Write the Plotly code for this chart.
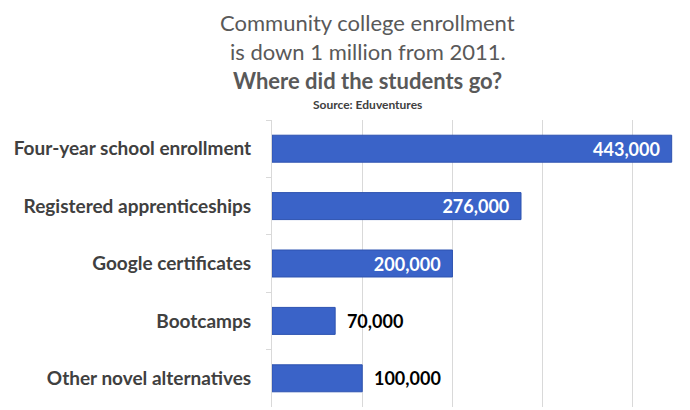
import plotly.graph_objects as go

categories = [
    "Four-year school enrollment",
    "Registered apprenticeships",
    "Google certificates",
    "Bootcamps",
    "Other novel alternatives",
]
students = [443000, 276000, 200000, 70000, 100000]
label_inside = [True, True, True, False, False]

# the page body adds an 8px margin, so the figure is a bit smaller
PAD = 8
W, H = 690 - PAD, 410 - PAD
M = dict(l=264, r=12, t=112, b=3)


def py(p):
    # window pixel row -> paper y
    return (H - M["b"] - (p - PAD)) / (H - M["t"] - M["b"])


def px(p):
    return (p - PAD - M["l"]) / (W - M["l"] - M["r"])


texts = []
for v, inside in zip(students, label_inside):
    s = f"{v:,}"
    texts.append(s + "\u00a0\u00a0" if inside else "\u00a0\u00a0" + s)

fig = go.Figure()
fig.add_trace(
    go.Bar(
        x=students,
        y=categories,
        orientation="h",
        text=texts,
        textposition=["inside" if i else "outside" for i in label_inside],
        insidetextanchor="end",
        constraintext="none",
        cliponaxis=False,
        textfont=dict(
            family="Lato",
            size=18,
            color=["white" if i else "black" for i in label_inside],
            weight="bold",
        ),
        marker=dict(color="#3A63C8", line=dict(color="#2D52B0", width=1)),
        hoverinfo="skip",
        showlegend=False,
    )
)

# title lines stacked from the top edge: text, font size, colour
title_lines = [
    ("Community college enrollment", 22, "#595959"),
    ("is down 1 million from 2011.", 22, "#595959"),
    ("<b>Where did the students go?</b>", 22, "#595959"),
    ("<b>Source: Eduventures</b>", 12, "#404040"),
]
annotations = []
top = PAD
for txt, size, col in title_lines:
    annotations.append(
        dict(
            text=txt,
            x=px(367.5),
            y=py(top),
            xref="paper",
            yref="paper",
            xanchor="center",
            yanchor="top",
            borderpad=0,
            showarrow=False,
            font=dict(family="Lato", size=size, color=col),
        )
    )
    top += size * 1.3 + 0.6

fig.update_layout(
    width=W,
    height=H,
    margin=M,
    paper_bgcolor="white",
    plot_bgcolor="white",
    bargap=0.53,
    annotations=annotations,
    xaxis=dict(
        range=[0, 450000],
        showticklabels=False,
        showgrid=True,
        gridcolor="#D9D9D9",
        gridwidth=1,
        dtick=100000,
        zeroline=False,
        fixedrange=True,
    ),
    yaxis=dict(
        autorange="reversed",
        showline=True,
        linecolor="#D9D9D9",
        ticks="outside",
        tickson="boundaries",
        ticklen=5,
        tickcolor="#D9D9D9",
        tickfont=dict(family="Lato", size=19, color="#404040", weight="bold"),
        ticklabelstandoff=16,
        fixedrange=True,
    ),
)

fig.write_html("out.html")
